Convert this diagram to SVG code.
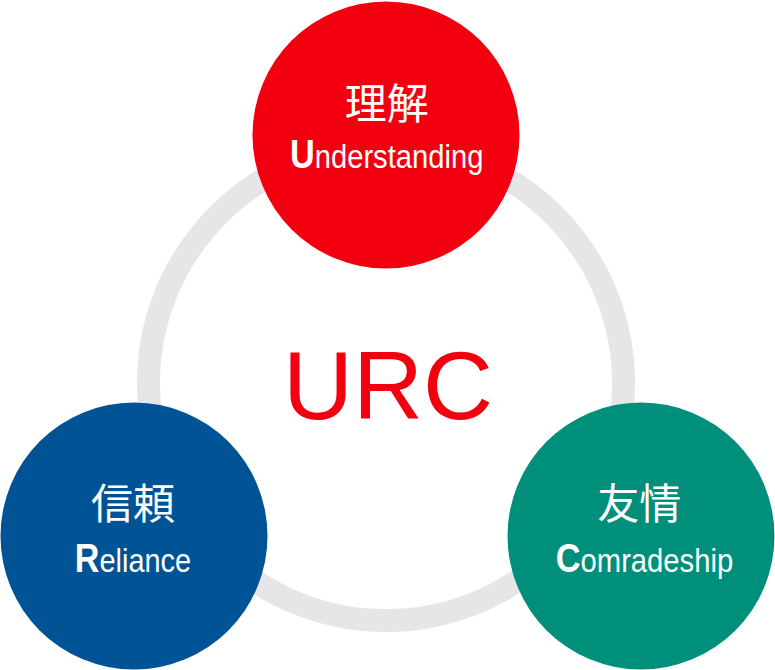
<svg xmlns="http://www.w3.org/2000/svg" width="775" height="670" viewBox="0 0 775 670">
  <style>
    .ring { fill: none; stroke: #e6e6e8; stroke-width: 23; }
    .node { stroke: none; }
    .red { fill: #f2000f; }
    .blue { fill: #005394; }
    .green { fill: #008f7b; }
    .cjk { font-family: "Noto Sans CJK JP", "Noto Sans CJK SC", sans-serif; font-size: 42px; fill: #ffffff; text-anchor: middle; }
    .lat { font-family: "Liberation Sans", Arial, Helvetica, sans-serif; fill: #ffffff; }
    .ini { font-weight: bold; font-size: 40px; }
    .rest { font-weight: normal; font-size: 34px; }
    .title { font-family: "Liberation Sans", Arial, Helvetica, sans-serif; font-size: 97px; fill: #f2000f; text-anchor: middle; }
  </style>
  <rect width="775" height="670" fill="#ffffff"/>
  <g id="connectors">
    <circle class="ring" cx="386" cy="383" r="237.5"/>
  </g>
  <g id="center">
    <text class="title" x="388" y="419">URC</text>
  </g>
  <g id="node-understanding">
    <circle class="node red" cx="386" cy="135" r="133.5"/>
    <text class="cjk" x="386.7" y="119">理解</text>
    <text class="lat" transform="translate(290,167.5) scale(0.858,1)" x="0" y="0"><tspan class="ini">U</tspan><tspan class="rest">nderstanding</tspan></text>
  </g>
  <g id="node-reliance">
    <circle class="node blue" cx="134" cy="536" r="133.5"/>
    <text class="cjk" x="133" y="519">信頼</text>
    <text class="lat" transform="translate(74.8,572.4) scale(0.852,1)" x="0" y="0"><tspan class="ini">R</tspan><tspan class="rest">eliance</tspan></text>
  </g>
  <g id="node-comradeship">
    <circle class="node green" cx="641" cy="536" r="133.5"/>
    <text class="cjk" x="639.2" y="519">友情</text>
    <text class="lat" transform="translate(555.7,572.4) scale(0.86,1)" x="0" y="0"><tspan class="ini">C</tspan><tspan class="rest">omradeship</tspan></text>
  </g>
</svg>
